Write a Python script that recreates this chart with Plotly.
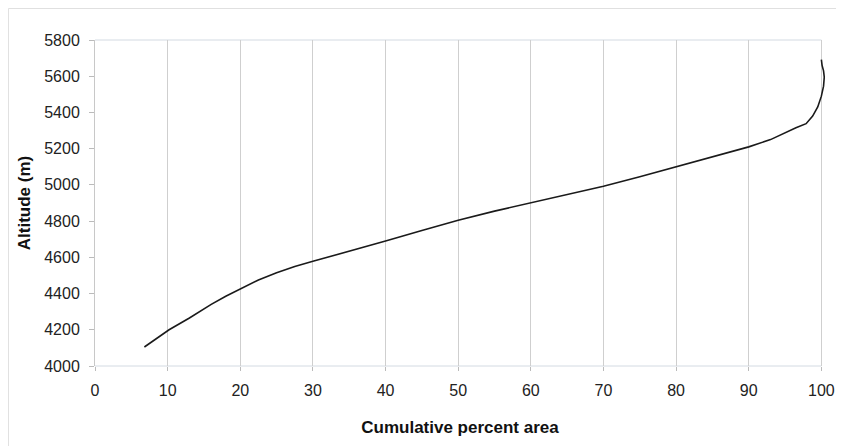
import plotly.graph_objects as go

# Hypsometric curve: cumulative percent area vs altitude
cum_pct = [6.8, 8.5, 10.2, 13, 16, 18, 20, 22.5, 25, 27.5, 30, 35, 40, 45, 50,
           55, 60, 65, 70, 75, 80, 85, 90, 93, 95, 96.5, 97.9, 98.8, 99.5,
           100.0, 100.3, 100.4, 100.3, 100.1, 100.0]
altitude = [4105, 4155, 4200, 4265, 4340, 4385, 4425, 4475, 4515, 4550, 4578,
            4632, 4690, 4748, 4805, 4855, 4902, 4950, 4993, 5045, 5099, 5152,
            5210, 5250, 5288, 5315, 5338, 5380, 5430, 5490, 5545, 5595, 5630,
            5660, 5692]
x_ticks = [0, 10, 20, 30, 40, 50, 60, 70, 80, 90, 100]
y_ticks = [4000, 4200, 4400, 4600, 4800, 5000, 5200, 5400, 5600, 5800]

FONT = "Liberation Sans, Arial, sans-serif"
X_MAX = 100.5  # tiny headroom so the curve's tip is not clipped

fig = go.Figure()
fig.add_trace(go.Scatter(
    x=cum_pct, y=altitude, mode="lines",
    line=dict(color="#1a1a1a", width=1.6),
    cliponaxis=False, showlegend=False, hoverinfo="skip"))

# page body adds an 8px offset, so the figure is 8px smaller than the window
W, H = 836, 438
L, T, B = 87, 32, 80
plot_w = 726 * X_MAX / 100
plot_h = H - T - B
R = W - L - plot_w

fig.update_layout(
    width=W, height=H,
    margin=dict(l=L, r=R, t=T, b=B, autoexpand=False),
    paper_bgcolor="white", plot_bgcolor="white",
    font=dict(family=FONT, size=16, color="#222"),
    xaxis=dict(
        range=[0, X_MAX], tickvals=x_ticks, ticktext=[str(v) for v in x_ticks],
        showgrid=True, gridcolor="#cfcfcf", gridwidth=1,
        showline=False,
        ticks="outside", ticklen=4, tickcolor="#bbbbbb",
        zeroline=False, ticklabelstandoff=6,
        title=dict(text="<b>Cumulative percent area</b>",
                   font=dict(family=FONT, size=17, color="#111"), standoff=22),
        tickfont=dict(family=FONT, size=16, color="#222"),
    ),
    yaxis=dict(
        range=[4000, 5800], tickvals=y_ticks, ticktext=[str(v) for v in y_ticks],
        showgrid=False, showline=True, linecolor="#c8c8c8", linewidth=1,
        ticks="outside", ticklen=5, tickcolor="#bbbbbb",
        zeroline=False, ticklabelstandoff=6,
        title=dict(text="<b>Altitude (m)</b>",
                   font=dict(family=FONT, size=17, color="#111"), standoff=9),
        tickfont=dict(family=FONT, size=16, color="#222"),
    ),
    shapes=[
        dict(type="rect", xref="paper", yref="paper",
             x0=(0.5 - L) / plot_w, x1=(W + 10 - L) / plot_w,
             y0=-(B + 10) / plot_h, y1=1 + (T - 0.5) / plot_h,
             line=dict(color="#e0e0e0", width=1), layer="below"),
        dict(type="line", xref="x", yref="paper", x0=0, x1=100, y0=1, y1=1,
             line=dict(color="#d3dae2", width=1), layer="below"),
        dict(type="line", xref="x", yref="paper", x0=0, x1=100, y0=0, y1=0,
             line=dict(color="#d3dae2", width=1), layer="below"),
    ],
)

fig.write_html("out.html")
